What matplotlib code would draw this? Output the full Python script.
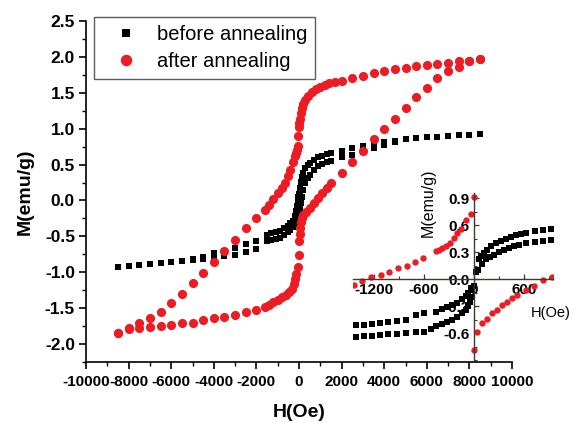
# M-H hysteresis loops before/after annealing, with a low-field inset

import matplotlib
matplotlib.use("Agg")
import matplotlib.pyplot as plt
from matplotlib.ticker import MultipleLocator, FormatStrFormatter

plt.rcParams["font.family"] = ["Liberation Sans", "DejaVu Sans"]
plt.rcParams["axes.unicode_minus"] = False

RED = "#ec1c24"

# ---- main plot: before annealing (black squares), two branches ----
before_h_down = [8500, 8000, 7500, 7000, 6500, 6000, 5500, 5000, 4500, 4000, 3500, 3000, 2500, 2000,
                 1500, 1300, 1100, 900, 700, 500, 400, 300, 200, 150, 100, 60, 30, 0, -30, -60,
                 -100, -150, -200, -300, -400, -500, -700, -900, -1100, -1300, -1500,
                 -2000, -2500, -3000, -3500, -4000, -4500, -5000, -5500, -6000, -6500, -7000,
                 -7500, -8000, -8500]
before_m_down = [0.93, 0.917, 0.908, 0.90, 0.89, 0.88, 0.866, 0.852, 0.833, 0.81, 0.787, 0.759, 0.727, 0.69,
                 0.66, 0.645, 0.625, 0.60, 0.565, 0.525, 0.49, 0.45, 0.38, 0.33, 0.26, 0.17, 0.13, 0.09,
                 0.05, 0.0, -0.08, -0.15, -0.21, -0.28, -0.32, -0.35, -0.39, -0.42, -0.44, -0.46, -0.48,
                 -0.56, -0.61, -0.666, -0.70, -0.735, -0.79, -0.82, -0.84, -0.86, -0.875, -0.89,
                 -0.905, -0.912, -0.925]

before_h_up = [-8500, -8000, -7500, -7000, -6500, -6000, -5500, -5000, -4500, -4000, -3500, -3000, -2500, -2000,
               -1500, -1300, -1100, -900, -700, -500, -400, -300, -200, -150, -100, -50, 0, 50, 100,
               150, 200, 300, 400, 500, 700, 900, 1100, 1300, 1500,
               2000, 2500, 3000, 3500, 4000, 4500, 5000, 5500, 6000, 6500, 7000, 7500, 8000, 8500]
before_m_up = [-0.925, -0.912, -0.905, -0.89, -0.875, -0.86, -0.845, -0.83, -0.815, -0.80, -0.78, -0.76, -0.713, -0.68,
               -0.57, -0.555, -0.54, -0.52, -0.48, -0.44, -0.41, -0.375, -0.33, -0.30, -0.26, -0.21, -0.16,
               -0.12, -0.04, 0.05, 0.14, 0.25, 0.31, 0.36, 0.43, 0.48, 0.51, 0.53, 0.545,
               0.61, 0.634, 0.68, 0.727, 0.773, 0.815, 0.85, 0.866, 0.88, 0.89, 0.90, 0.908, 0.917, 0.93]

# ---- main plot: after annealing (red circles), two branches ----
after_h_up = [-8500, -8000, -7500, -7000, -6500, -6000, -5500, -5000, -4500, -4000, -3500, -3000, -2500, -2000,
              -1600, -1400, -1200, -1000, -800, -650, -500, -400, -300, -200, -150, -100, -60, -30,
              0, 20, 50, 100, 150, 200, 300, 400, 600, 800, 1000, 1200, 1400, 1700,
              2000, 2500, 3000, 3500, 4000, 4500, 5000, 5500, 6000, 6500, 7000, 7500, 8000, 8500]
after_m_up = [-1.84, -1.78, -1.71, -1.64, -1.55, -1.43, -1.30, -1.153, -1.005, -0.853, -0.70, -0.55, -0.387, -0.248,
              -0.13, -0.06, 0.02, 0.10, 0.18, 0.25, 0.34, 0.43, 0.53, 0.62, 0.66, 0.71, 0.76, 0.90,
              1.02, 1.08, 1.14, 1.22, 1.29, 1.34, 1.40, 1.46, 1.515, 1.555, 1.585, 1.61, 1.63, 1.655,
              1.665, 1.70, 1.734, 1.77, 1.80, 1.827, 1.85, 1.869, 1.89, 1.905, 1.92, 1.94, 1.947, 1.975]

after_h_down = [8500, 8000, 7500, 7000, 6500, 6000, 5500, 5000, 4500, 4000, 3500, 3000, 2500, 2000,
                1500, 1300, 1100, 900, 700, 500, 350, 200, 120, 80, 50, 30, 10, -10, -60, -120, -180,
                -250, -350, -450, -600, -800, -1000, -1200, -1400, -1600,
                -2000, -2500, -3000, -3500, -4000, -4500, -5000, -5500, -6000, -6500, -7000, -7500, -8000, -8500]
after_m_down = [1.975, 1.94, 1.855, 1.80, 1.70, 1.571, 1.437, 1.288, 1.14, 1.0, 0.852, 0.69, 0.54, 0.38,
                0.24, 0.17, 0.10, 0.03, -0.04, -0.10, -0.16, -0.20, -0.24, -0.30, -0.38, -0.47, -0.57, -0.76,
                -0.92, -1.02, -1.10, -1.17, -1.23, -1.27, -1.31, -1.35, -1.39, -1.42, -1.45, -1.48,
                -1.525, -1.56, -1.595, -1.62, -1.64, -1.665, -1.70, -1.71, -1.734, -1.748, -1.757, -1.78, -1.794, -1.84]

# ---- inset (low field zoom) ----
inset_before_h1 = [-1420, -1320, -1228, -1132, -1032, -920, -812, -700, -600, -452, -380, -320, -260, -200,
                   -140, -100, -68, -40, 20, 50, 100, 140, 190, 240, 300, 360, 420, 480, 540, 630, 730, 830, 930]
inset_before_m1 = [-0.513, -0.506, -0.495, -0.487, -0.48, -0.465, -0.45, -0.40, -0.382, -0.364, -0.337, -0.315,
                   -0.289, -0.263, -0.225, -0.188, -0.15, -0.10, 0.085, 0.10, 0.17, 0.22, 0.25, 0.27, 0.30,
                   0.33, 0.35, 0.37, 0.385, 0.405, 0.415, 0.43, 0.44]
inset_before_h2 = [-1420, -1320, -1228, -1132, -1032, -920, -812, -700, -600, -520, -452, -380, -320, -260,
                   -200, -140, -100, -68, -52, -40, -20, 0, 60, 90, 120, 160, 200, 260, 320, 380, 440, 500,
                   560, 630, 730, 830, 930]
inset_before_m2 = [-0.645, -0.637, -0.63, -0.622, -0.615, -0.607, -0.60, -0.592, -0.585, -0.551, -0.525, -0.502,
                   -0.476, -0.45, -0.42, -0.382, -0.345, -0.30, -0.252, -0.195, -0.12, -0.075, 0.22, 0.26,
                   0.29, 0.33, 0.37, 0.40, 0.42, 0.45, 0.47, 0.49, 0.505, 0.515, 0.535, 0.545, 0.56]
inset_after_h1 = [-1440, -1340, -1232, -1120, -1020, -908, -808, -712, -612, -460, -420, -380, -330, -288,
                  -240, -200, -152, -100, -40, 0]
inset_after_m1 = [-0.064, -0.015, 0.02, 0.05, 0.085, 0.12, 0.15, 0.19, 0.235, 0.31, 0.33, 0.35, 0.375, 0.40,
                  0.46, 0.52, 0.56, 0.66, 0.73, 0.91]
inset_after_h2 = [0, 40, 100, 160, 220, 280, 340, 400, 460, 520, 620, 720, 828, 940]
inset_after_m2 = [-0.79, -0.59, -0.49, -0.44, -0.38, -0.34, -0.29, -0.25, -0.21, -0.18, -0.12, -0.075, -0.01, 0.02]

main_xticks = [-10000, -8000, -6000, -4000, -2000, 0, 2000, 4000, 6000, 8000, 10000]
main_yticks = [-2.0, -1.5, -1.0, -0.5, 0.0, 0.5, 1.0, 1.5, 2.0, 2.5]
inset_xticks = [-1200, -600, 0, 600]
inset_yticks = [-0.6, -0.3, 0.0, 0.3, 0.6, 0.9]


def draw_main(fig):
    """Main hysteresis loops"""
    ax = fig.add_axes([86 / 573, 1 - 362 / 423, 426 / 573, 341 / 423])

    ax.plot(before_h_down, before_m_down, "s", color="black", ms=4.6, mew=0, label="before annealing")
    ax.plot(before_h_up, before_m_up, "s", color="black", ms=4.6, mew=0)
    ax.plot(after_h_up, after_m_up, "o", color=RED, ms=6.6, mew=0, label="after annealing")
    ax.plot(after_h_down, after_m_down, "o", color=RED, ms=6.6, mew=0)

    ax.set_xlim(-10000, 10000)
    ax.set_ylim(-2.25, 2.5)
    ax.set_xticks(main_xticks)
    ax.set_yticks(main_yticks)
    ax.xaxis.set_minor_locator(MultipleLocator(1000))
    ax.yaxis.set_minor_locator(MultipleLocator(0.25))
    ax.yaxis.set_major_formatter(FormatStrFormatter("%.1f"))

    for side in ["top", "right"]:
        ax.spines[side].set_visible(False)
    for side in ["left", "bottom"]:
        ax.spines[side].set_linewidth(1.2)

    ax.tick_params(which="major", direction="out", length=5, width=1.2)
    ax.tick_params(which="minor", direction="out", length=3, width=1.0)
    ax.tick_params(axis="x", labelsize=11, pad=4)
    ax.tick_params(axis="y", labelsize=12.5, pad=3)
    plt.setp(ax.get_xticklabels(), fontweight="bold")
    plt.setp(ax.get_yticklabels(), fontweight="bold")

    ax.set_xlabel("H(Oe)", fontsize=14, fontweight="bold", labelpad=11)
    ax.set_ylabel("M(emu/g)", fontsize=14, fontweight="bold", labelpad=8)

    leg = ax.legend(loc="upper left", bbox_to_anchor=(0.019, 1.012), borderaxespad=0,
                    fontsize=14.5, frameon=True, fancybox=False, edgecolor="#333333",
                    borderpad=0.4, handlelength=2.4, handletextpad=0.3, labelspacing=0.4,
                    markerscale=1.25)
    leg.get_frame().set_linewidth(1.0)
    return ax


def draw_inset(fig):
    """Inset: low field region"""
    ax = fig.add_axes([353 / 573, 1 - 360 / 423, 200 / 573, 167 / 423])
    ax.patch.set_alpha(0)

    ax.plot(inset_before_h1, inset_before_m1, "s", color="black", ms=3.7, mew=0)
    ax.plot(inset_before_h2, inset_before_m2, "s", color="black", ms=3.7, mew=0)
    ax.plot(inset_after_h1, inset_after_m1, "o", color=RED, ms=4.6, mew=0)
    ax.plot(inset_after_h2, inset_after_m2, "o", color=RED, ms=4.6, mew=0)

    ax.set_xlim(-1450, 950)
    ax.set_ylim(-0.9, 0.96)
    ax.set_xticks(inset_xticks)
    ax.set_yticks(inset_yticks)
    ax.xaxis.set_minor_locator(MultipleLocator(300))
    ax.yaxis.set_minor_locator(MultipleLocator(0.15))
    ax.yaxis.set_major_formatter(FormatStrFormatter("%.1f"))

    axis_color = "#40382c"
    ax.spines["top"].set_visible(False)
    ax.spines["right"].set_visible(False)
    ax.spines["left"].set_position(("data", 0))
    ax.spines["bottom"].set_position(("data", 0))
    for side in ["left", "bottom"]:
        ax.spines[side].set_color(axis_color)
        ax.spines[side].set_linewidth(1.0)

    ax.tick_params(which="major", direction="in", length=3.5, width=0.9, color=axis_color,
                   labelsize=11, pad=3)
    ax.tick_params(which="minor", direction="in", length=2, width=0.8, color=axis_color)
    plt.setp(ax.get_xticklabels(), fontweight="bold")
    plt.setp(ax.get_yticklabels(), fontweight="bold")

    fig.text(428 / 573, 1 - 203 / 423, "M(emu/g)", rotation=90, fontsize=11.5,
             ha="center", va="center")
    fig.text(571 / 573, 1 - 313 / 423, "H(Oe)", fontsize=10.5, ha="right", va="center")
    return ax


def main():
    fig = plt.figure(figsize=(5.73, 4.23), dpi=100)
    draw_main(fig)
    draw_inset(fig)
    fig.savefig("out.png", dpi=100)


if __name__ == "__main__":
    main()
